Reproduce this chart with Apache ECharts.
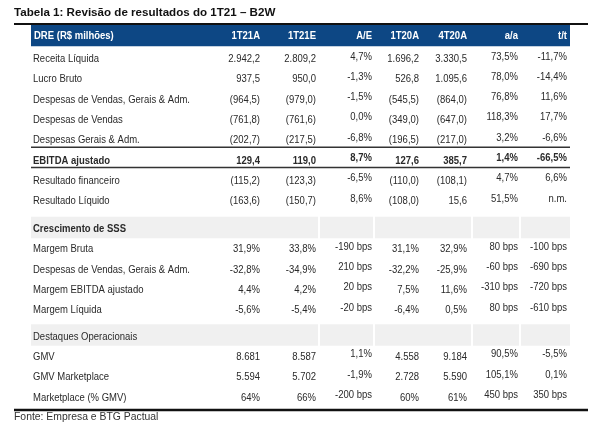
<!DOCTYPE html>
<html><head><meta charset="utf-8">
<script src="https://cdn.jsdelivr.net/npm/echarts@6/dist/echarts.min.js"></script>
<style>html,body{margin:0;padding:0;background:#fff}#c{width:602px;height:429px}</style>
</head><body><div id="c"></div>
<script>
// ---------- DATA ----------
const titleText = 'Tabela 1: Revisão de resultados do 1T21 – B2W';
const sourceText = 'Fonte: Empresa e BTG Pactual';
const headerLabel = 'DRE (R$ milhões)';
const columns = ['1T21A', '1T21E', 'A/E', '1T20A', '4T20A', 'a/a', 't/t'];
const dreRows = ['Receita Líquida', 'Lucro Bruto', 'Despesas de Vendas, Gerais & Adm.', 'Despesas de Vendas',
  'Despesas Gerais & Adm.', 'EBITDA ajustado', 'Resultado financeiro', 'Resultado Líquido'];
const sssTitle = 'Crescimento de SSS';
const sssRows = ['Margem Bruta', 'Despesas de Vendas, Gerais & Adm.', 'Margem EBITDA ajustado', 'Margem Líquida'];
const opsTitle = 'Destaques Operacionais';
const opsRows = ['GMV', 'GMV Marketplace', 'Marketplace (% GMV)'];

const val1T21A = ['2.942,2', '937,5', '(964,5)', '(761,8)', '(202,7)', '129,4', '(115,2)', '(163,6)',
  '31,9%', '-32,8%', '4,4%', '-5,6%', '8.681', '5.594', '64%'];
const val1T21E = ['2.809,2', '950,0', '(979,0)', '(761,6)', '(217,5)', '119,0', '(123,3)', '(150,7)',
  '33,8%', '-34,9%', '4,2%', '-5,4%', '8.587', '5.702', '66%'];
const valAE = ['4,7%', '-1,3%', '-1,5%', '0,0%', '-6,8%', '8,7%', '-6,5%', '8,6%',
  '-190 bps', '210 bps', '20 bps', '-20 bps', '1,1%', '-1,9%', '-200 bps'];
const val1T20A = ['1.696,2', '526,8', '(545,5)', '(349,0)', '(196,5)', '127,6', '(110,0)', '(108,0)',
  '31,1%', '-32,2%', '7,5%', '-6,4%', '4.558', '2.728', '60%'];
const val4T20A = ['3.330,5', '1.095,6', '(864,0)', '(647,0)', '(217,0)', '385,7', '(108,1)', '15,6',
  '32,9%', '-25,9%', '11,6%', '0,5%', '9.184', '5.590', '61%'];
const valAA = ['73,5%', '78,0%', '76,8%', '118,3%', '3,2%', '1,4%', '4,7%', '51,5%',
  '80 bps', '-60 bps', '-310 bps', '80 bps', '90,5%', '105,1%', '450 bps'];
const valTT = ['-11,7%', '-14,4%', '11,6%', '17,7%', '-6,6%', '-66,5%', '6,6%', 'n.m.',
  '-100 bps', '-690 bps', '-720 bps', '-610 bps', '-5,5%', '0,1%', '350 bps'];
const boldRow = 'EBITDA ajustado';

// ---------- LAYOUT (not data) ----------
const FONT = '"Liberation Sans", Arial, sans-serif';
const SIZE = 11.2, SX = 0.85;
const TXT = '#2a2a2a';
const BLUE = '#0d4784';
const BAND = '#f0f0f0';
const labelX = 33;
const colRight = [260, 316, 372, 419, 467, 518, 567];
const colDy = [0, 0, -2.5, 0, 0, -2.5, -2.5];
const tableL = 31, tableR = 570, ruleL = 14, ruleR = 588;
const bandSegs = [[31, 318], [320, 373], [375, 471], [473, 519], [521, 570]];
const sectionGap = [0.38, 0.3];

const allVals = [val1T21A, val1T21E, valAE, val1T20A, val4T20A, valAA, valTT];
const rows = [];
let pos = 0;
dreRows.forEach((r, i) => { pos += 1; rows.push({ label: r, vi: i, bold: r === boldRow, y: pos }); });
pos += 1 + sectionGap[0]; const band1 = pos; rows.push({ label: sssTitle, band: true, bold: true, y: pos });
sssRows.forEach((r, i) => { pos += 1; rows.push({ label: r, vi: dreRows.length + i, y: pos }); });
pos += 1 + sectionGap[1]; const band2 = pos; rows.push({ label: opsTitle, band: true, bold: false, y: pos });
opsRows.forEach((r, i) => { pos += 1; rows.push({ label: r, vi: dreRows.length + sssRows.length + i, y: pos }); });
const lastPos = pos;

const cells = [];
const headerY = -0.13;
cells.push({ x: labelX + 1, y: headerY, text: headerLabel, align: 'left', bold: true, fill: '#fff', dy: 0 });
columns.forEach((c, j) => cells.push({ x: colRight[j], y: headerY, text: c, align: 'right', bold: true, fill: '#fff', dy: 0 }));
rows.forEach(r => {
  cells.push({ x: labelX, y: r.y, text: r.label, align: 'left', bold: !!r.bold, fill: TXT, dy: 0 });
  if (r.vi !== undefined) {
    allVals.forEach((arr, j) => cells.push({ x: colRight[j], y: r.y, text: arr[r.vi], align: 'right', bold: !!r.bold, fill: TXT, dy: colDy[j] }));
  }
});

const shapes = [];
shapes.push({ t: 'rect', x0: tableL, x1: tableR, y0: headerY - 0.54, y1: headerY + 0.5, fill: BLUE });
[band1, band2].forEach(b => bandSegs.forEach(s => shapes.push({ t: 'rect', x0: s[0], x1: s[1], y0: b - 0.6, y1: b + 0.45, fill: BAND })));
shapes.push({ t: 'line', x0: ruleL, x1: ruleR, y0: -0.72, w: 2, c: '#111' });
shapes.push({ t: 'line', x0: tableL, x1: tableR, y0: 5.35, w: 1.6, c: '#333' });
shapes.push({ t: 'line', x0: tableL, x1: tableR, y0: 6.35, w: 1.6, c: '#333' });
shapes.push({ t: 'line', x0: ruleL, x1: ruleR, y0: lastPos + 0.62, w: 2.5, c: '#111' });

const chart = echarts.init(document.getElementById('c'), null, { renderer: 'canvas' });
chart.setOption({
  animation: false,
  title: [
    { text: titleText, left: 14, top: 7, padding: 0, textStyle: { fontFamily: FONT, fontSize: 11.6, fontWeight: 'bold', color: '#111' } },
    { text: sourceText, left: 14, top: 412, padding: 0, textStyle: { fontFamily: FONT, fontSize: 10.4, fontWeight: 'normal', color: '#333' } }
  ],
  grid: { left: 0, width: 602, top: 18.4, height: 405.8 },
  xAxis: { type: 'value', min: 0, max: 602, show: false },
  yAxis: { type: 'value', min: -1, max: 19, inverse: true, show: false },
  series: [
    {
      type: 'custom', silent: true, z: 1,
      data: shapes.map(s => [s.x0, s.y0]),
      renderItem: (params, api) => {
        const s = shapes[params.dataIndex];
        const a = api.coord([s.x0, s.y0]);
        if (s.t === 'rect') {
          const b = api.coord([s.x1, s.y1]);
          return { type: 'rect', shape: { x: a[0], y: a[1], width: b[0] - a[0], height: b[1] - a[1] }, style: { fill: s.fill } };
        }
        const b = api.coord([s.x1, s.y0]);
        return { type: 'line', shape: { x1: a[0], y1: a[1], x2: b[0], y2: b[1] }, style: { stroke: s.c, lineWidth: s.w } };
      }
    },
    {
      type: 'custom', silent: true, z: 2,
      data: cells.map(c => [c.x, c.y]),
      renderItem: (params, api) => {
        const c = cells[params.dataIndex];
        const p = api.coord([c.x, c.y]);
        return {
          type: 'text', x: p[0], y: p[1] + c.dy, scaleX: SX,
          style: { text: c.text, fill: c.fill, align: c.align, verticalAlign: 'middle',
            fontFamily: FONT, fontSize: SIZE, fontWeight: c.bold ? 'bold' : 'normal' }
        };
      }
    }
  ]
});
</script></body></html>
